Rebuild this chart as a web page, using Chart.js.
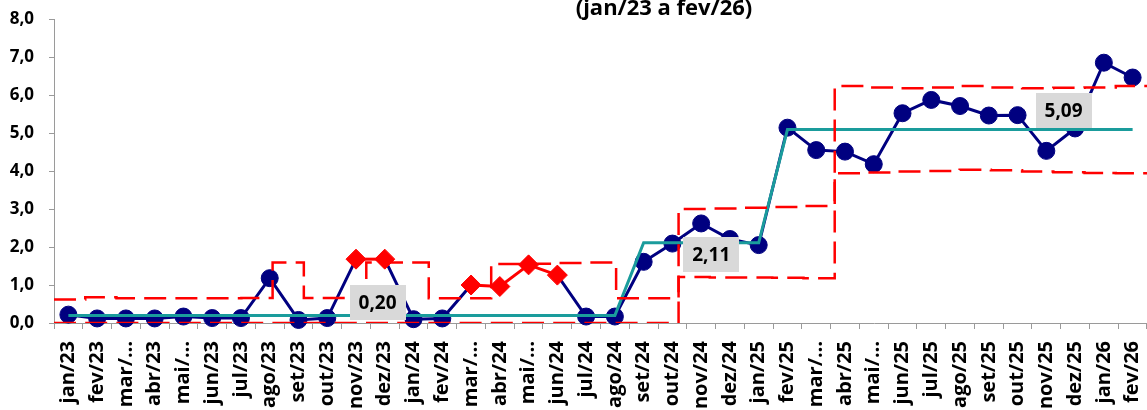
<!DOCTYPE html>
<html><head><meta charset="utf-8">
<script src="https://cdn.jsdelivr.net/npm/chart.js@4.4.1/dist/chart.umd.min.js"></script>
<style>html,body{margin:0;padding:0;background:#fff;overflow:hidden}canvas{display:block}</style>
</head><body>
<canvas id="c" width="1147" height="410"></canvas>
<script>
const titleText = '(jan/23 a fev/26)';
const categories = ['jan/23','fev/23','mar/…','abr/23','mai/…','jun/23','jul/23','ago/23','set/23','out/23','nov/23','dez/23',
  'jan/24','fev/24','mar/…','abr/24','mai/…','jun/24','jul/24','ago/24','set/24','out/24','nov/24','dez/24',
  'jan/25','fev/25','mar/…','abr/25','mai/…','jun/25','jul/25','ago/25','set/25','out/25','nov/25','dez/25',
  'jan/26','fev/26'];
const values = [0.22,0.12,0.12,0.12,0.17,0.13,0.13,1.18,0.08,0.13,1.68,1.68,
  0.10,0.12,1.00,0.96,1.53,1.26,0.17,0.17,1.61,2.09,2.62,2.21,
  2.05,5.14,4.55,4.51,4.18,5.52,5.87,5.71,5.46,5.47,4.53,5.12,
  6.85,6.46];
const centerLine = [0.20,0.20,0.20,0.20,0.20,0.20,0.20,0.20,0.20,0.20,0.20,0.20,
  0.20,0.20,0.20,0.20,0.20,0.20,0.20,0.20,2.11,2.11,2.11,2.11,
  2.11,5.09,5.09,5.09,5.09,5.09,5.09,5.09,5.09,5.09,5.09,5.09,
  5.09,5.09];
const specialIdx = [10,11,14,15,16,17];
// control limits, one value per step unit (35 units across the plot)
const ucl = [0.62,0.68,0.65,0.65,0.65,0.65,0.66,1.59,0.66,0.66,1.59,1.59,0.65,0.65,
  1.55,1.56,1.58,1.59,0.65,0.65,3.00,3.01,3.03,3.05,3.08,
  6.24,6.20,6.18,6.20,6.24,6.20,6.18,6.19,6.20,6.24];
const lcl = [0,0,0,0,0,0,0,0,0,0,0,0,0,0,0,0,0,0,0,0,
  1.21,1.20,1.20,1.19,1.18,
  3.94,3.96,3.99,4.00,4.03,4.02,3.99,3.97,3.95,3.94];
const yTicks = [0,1,2,3,4,5,6,7,8];

const special = new Set(specialIdx);
const fmt1 = v => v.toFixed(1).replace('.', ',');
const fmt2 = v => v.toFixed(2).replace('.', ',');
function stepPoints(arr){
  const pts = [];
  arr.forEach((v,k)=>{ pts.push({x:k,y:v}); pts.push({x:k+1,y:v}); });
  return pts;
}
const phaseValues = centerLine.filter((v,i,a)=> i===0 || a[i-1]!==v);

const FONT = "'Open Sans', 'DejaVu Sans', sans-serif";
const RED = '#FF0000', NAVY = '#000080', TEAL = '#1A9C9C', AXIS = '#9a9a9a';

const labelPlugin = {
  id: 'labels',
  afterDatasetsDraw(chart){
    const ctx = chart.ctx, xs = chart.scales.x, ys = chart.scales.y;
    const pos = [{idx:10.75, val:0.54},{idx:22.35, val:1.80},{idx:34.6, val:5.58}];
    ctx.save();
    ctx.font = "bold 19px " + FONT;
    ctx.textAlign = 'center'; ctx.textBaseline = 'middle';
    phaseValues.forEach((v,i)=>{
      const p = pos[i]; if(!p) return;
      const cx = xs.getPixelForValue(p.idx), cy = ys.getPixelForValue(p.val);
      const t = fmt2(v);
      const w = ctx.measureText(t).width + 18, h = 35;
      ctx.fillStyle = '#d9d9d9';
      ctx.fillRect(Math.round(cx - w/2), Math.round(cy - h/2), Math.round(w), h);
      ctx.fillStyle = '#000';
      ctx.fillText(t, cx, cy + 1);
    });
    ctx.restore();
  },
  afterDraw(chart){
    const ctx = chart.ctx;
    ctx.save();
    ctx.font = "bold 22px " + FONT;
    ctx.fillStyle = '#000'; ctx.textAlign = 'center'; ctx.textBaseline = 'alphabetic';
    ctx.fillText(titleText, 664, 14.5);
    ctx.restore();
  }
};

const noPad = s => { s.paddingLeft = 0; s.paddingRight = 0; s.paddingTop = 0; s.paddingBottom = 0; };

new Chart(document.getElementById('c'), {
  type: 'line',
  data: {
    labels: categories,
    datasets: [
      {
        label: 'valor', data: values, xAxisID: 'x', yAxisID: 'y', order: 3,
        borderColor: NAVY, borderWidth: 3,
        segment: { borderColor: c => (special.has(c.p0DataIndex) && special.has(c.p1DataIndex)) ? RED : undefined },
        pointStyle: c => special.has(c.dataIndex) ? 'rectRot' : 'circle',
        pointRadius: c => special.has(c.dataIndex) ? 10 : 8.5,
        pointBackgroundColor: c => special.has(c.dataIndex) ? RED : NAVY,
        pointBorderColor: c => special.has(c.dataIndex) ? RED : NAVY,
        pointBorderWidth: 1, clip: false
      },
      {
        label: 'média', data: centerLine, xAxisID: 'x', yAxisID: 'y', order: 2,
        borderColor: TEAL, borderWidth: 3, pointRadius: 0
      },
      {
        label: 'LSC', data: stepPoints(ucl), xAxisID: 'x2', yAxisID: 'y', order: 1,
        borderColor: RED, borderWidth: 2.5, borderDash: [22, 9.2], pointRadius: 0
      },
      {
        label: 'LIC', data: stepPoints(lcl), xAxisID: 'x2', yAxisID: 'y', order: 1,
        borderColor: RED, borderWidth: 2.5, borderDash: [22, 9.2], pointRadius: 0
      }
    ]
  },
  options: {
    responsive: false, animation: false,
    layout: { autoPadding: false, padding: { top: 19, left: 0, right: 0, bottom: 0 } },
    plugins: { legend: { display: false }, tooltip: { enabled: false } },
    elements: { line: { tension: 0 } },
    scales: {
      x: {
        type: 'category', offset: true, position: 'bottom',
        grid: { display: true, drawOnChartArea: false, drawTicks: true, tickLength: 6, offset: true, color: AXIS },
        border: { display: true, color: AXIS, width: 1 },
        ticks: { autoSkip: false, maxRotation: 90, minRotation: 90, padding: 12, color: '#000',
                 font: { family: FONT, size: 20, weight: 'bold' } },
        afterFit(s){ s.height = 87; noPad(s); }
      },
      x2: { type: 'linear', min: 0, max: 35, display: false, position: 'bottom',
            ticks: { display: false }, grid: { display: false },
            afterFit(s){ s.height = 0; noPad(s); } },
      y: {
        min: 0, max: 8,
        afterBuildTicks(s){ s.ticks = yTicks.map(v => ({value: v})); },
        grid: { display: true, drawOnChartArea: false, drawTicks: true, tickLength: 5, color: AXIS },
        border: { display: true, color: AXIS, width: 1 },
        ticks: { padding: 15, color: '#000', callback: v => fmt1(v),
                 font: { family: FONT, size: 17, weight: 'bold' } },
        afterFit(s){ s.width = 54; noPad(s); }
      }
    }
  },
  plugins: [labelPlugin]
});
</script>
</body></html>
